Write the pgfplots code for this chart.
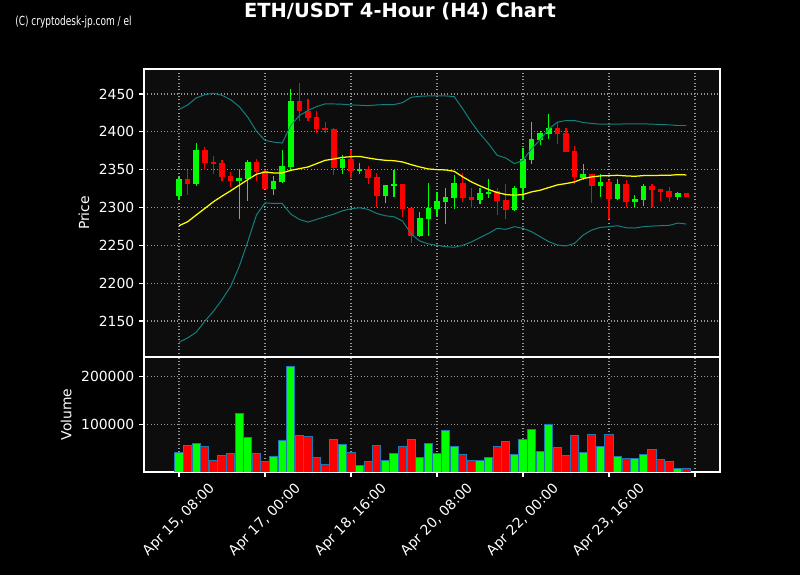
\documentclass[border=0pt]{standalone}
\usepackage{pgfplots}
\usepackage{pgfplotstable}
\pgfplotsset{compat=1.18}
\usepackage{fontspec}
\setmainfont{DejaVu Sans}
\newfontfamily\wmfont[FakeStretch=0.72]{DejaVu Sans}

\definecolor{upc}{RGB}{0,255,0}
\definecolor{dnc}{RGB}{255,0,0}
\definecolor{bbc}{RGB}{20,128,128}
\definecolor{mac}{RGB}{255,255,0}
\definecolor{axbg}{RGB}{13,13,13}
\definecolor{edgec}{RGB}{31,119,180}
\definecolor{gridc}{RGB}{150,150,150}

% candles: index, open, high, low, close, volume
\pgfplotstableread{
i o h l c v
0 2315.4 2340.4 2311.8 2337.3 41700
2 2331.1 2385.5 2328.5 2375.4 60400
7 2335.1 2351.3 2284.2 2339.0 122900
8 2337.3 2362.3 2309.2 2360.1 72900
11 2324.1 2341.7 2317.1 2334.6 33300
12 2333.3 2376.3 2332.5 2354.4 66700
13 2353.5 2456.6 2349.1 2441.2 220800
19 2352.2 2369.7 2344.7 2363.6 58300
21 2348.2 2359.2 2344.7 2350.4 14600
24 2315.4 2330.3 2305.3 2329.4 25000
25 2328.5 2350.0 2314.0 2330.7 39600
28 2262.7 2293.4 2261.0 2286.0 31300
29 2285.1 2332.9 2262.7 2299.6 60400
30 2298.2 2320.6 2288.6 2308.8 39600
31 2307.5 2326.3 2277.6 2314.0 87500
32 2312.7 2343.4 2297.4 2332.0 54200
35 2310.1 2326.3 2304.0 2318.9 25000
36 2317.5 2338.2 2312.7 2320.2 31300
39 2296.9 2329.0 2295.6 2326.3 37500
40 2325.9 2379.0 2311.4 2363.6 68800
41 2362.3 2413.2 2357.5 2389.9 89600
42 2388.6 2400.9 2382.9 2397.8 43800
43 2396.9 2423.7 2390.8 2404.4 100000
47 2339.5 2357.9 2336.8 2343.9 41700
49 2328.5 2343.9 2314.0 2333.3 54200
51 2311.4 2338.2 2309.6 2330.7 33300
53 2307.5 2316.7 2300.0 2311.0 29200
54 2310.1 2331.6 2302.2 2328.1 37500
58 2314.0 2321.0 2310.5 2318.9 8300
}\up

\pgfplotstableread{
i o h l c v
1 2337.3 2349.1 2317.1 2331.1 56300
3 2375.4 2379.8 2349.1 2358.8 54200
4 2360.1 2368.0 2344.7 2357.5 25000
5 2358.3 2363.2 2335.1 2340.4 35400
6 2341.2 2346.9 2327.2 2335.1 39600
9 2359.6 2364.5 2335.1 2346.9 39600
10 2347.8 2349.1 2324.1 2324.1 22900
14 2441.2 2464.9 2414.0 2427.2 77100
15 2428.1 2443.4 2414.0 2418.0 75000
16 2418.9 2427.2 2398.2 2403.1 31300
17 2404.4 2413.2 2398.2 2402.2 16700
18 2403.1 2404.4 2343.4 2352.2 68800
20 2363.6 2375.4 2339.5 2347.8 41700
22 2350.4 2354.8 2331.6 2339.0 22900
23 2339.9 2346.0 2300.4 2315.4 56300
26 2330.7 2330.7 2286.8 2298.2 54200
27 2299.6 2299.6 2252.6 2262.7 68800
33 2332.0 2346.0 2306.6 2312.7 37500
34 2314.0 2326.3 2299.6 2310.1 25000
37 2321.9 2326.3 2289.5 2308.3 54200
38 2310.1 2331.6 2284.2 2296.9 64600
44 2404.4 2413.2 2384.2 2396.9 52100
45 2397.8 2404.8 2373.2 2373.2 35400
46 2374.1 2381.6 2331.6 2340.4 77100
48 2343.9 2344.7 2305.3 2328.5 79200
50 2333.3 2336.0 2284.2 2311.4 79200
52 2330.7 2336.8 2300.9 2307.5 29200
55 2328.1 2331.6 2300.9 2323.2 47900
56 2324.1 2325.0 2308.3 2320.6 27100
57 2321.5 2327.2 2306.6 2314.0 22900
59 2318.9 2318.9 2314.0 2314.0 6300
}\down

% moving average and bollinger bands
\pgfplotstableread{
i mid up lo
0 2275.9 2429.4 2121.9
1 2281.1 2435.5 2127.6
2 2290.0 2444.7 2135.1
3 2298.7 2449.1 2149.6
4 2307.5 2450.9 2162.7
5 2315.0 2448.2 2178.1
6 2322.0 2442.5 2195.6
7 2329.4 2433.3 2221.9
8 2336.8 2419.3 2254.8
9 2343.9 2400.9 2289.9
10 2346.9 2388.6 2306.1
11 2345.6 2386.4 2305.3
12 2345.6 2385.1 2305.3
13 2349.1 2408.3 2291.2
14 2351.3 2421.5 2284.2
15 2353.5 2428.1 2280.7
16 2357.9 2433.3 2284.2
17 2362.3 2436.8 2287.7
18 2364.0 2436.8 2291.2
19 2366.2 2436.4 2295.6
20 2367.1 2435.5 2298.2
21 2367.5 2435.1 2299.6
22 2365.4 2434.6 2297.4
23 2363.6 2435.5 2292.1
24 2362.3 2436.0 2289.0
25 2361.8 2436.0 2287.7
26 2360.1 2438.6 2282.0
27 2356.6 2445.6 2264.9
28 2353.5 2446.9 2255.7
29 2350.9 2447.4 2251.8
30 2350.0 2447.4 2250.0
31 2349.6 2447.4 2248.2
32 2347.8 2446.5 2247.4
33 2340.4 2430.3 2250.0
34 2333.8 2412.7 2254.4
35 2328.5 2397.4 2260.1
36 2323.7 2384.2 2265.8
37 2319.7 2368.9 2272.4
38 2317.1 2365.4 2271.1
39 2316.2 2357.9 2274.6
40 2317.1 2362.3 2272.4
41 2320.6 2377.6 2268.0
42 2322.8 2389.5 2261.4
43 2326.3 2403.9 2254.8
44 2329.8 2412.7 2250.4
45 2331.6 2414.9 2249.1
46 2333.8 2414.9 2252.6
47 2338.2 2412.3 2263.6
48 2340.4 2411.0 2270.2
49 2341.7 2410.1 2273.7
50 2342.1 2410.1 2274.6
51 2342.5 2410.1 2275.9
52 2341.7 2410.5 2273.2
53 2341.2 2410.5 2272.8
54 2342.1 2410.5 2274.6
55 2342.1 2410.1 2275.4
56 2342.5 2409.6 2275.9
57 2342.5 2409.2 2276.3
58 2343.4 2408.3 2279.4
59 2343.0 2408.3 2278.1
}\bands

\pgfplotsset{
  darkpanel/.style={
    scale only axis,
    anchor=south west,
    width=414.72pt,
    xmin=-4.07, xmax=62.91,
    xtick={0,10,...,60},
    axis background/.style={fill=axbg},
    axis line style={white, line width=0.8pt},
    tick style={white, line width=0.8pt},
    tick align=outside,
    major tick length=3.5pt,
    xtick pos=bottom, ytick pos=left,
    grid=major,
    major grid style={gridc, line width=0.8pt, dash pattern=on 0.8pt off 1.6pt},
    tick label style={text=white, font=\fontsize{10}{12}\selectfont},
    label style={text=white, font=\fontsize{10}{12}\selectfont},
    /pgf/number format/assume math mode=true,
    /pgf/number format/1000 sep={},
    scaled y ticks=false,
  },
}

\begin{document}
\begin{tikzpicture}
\fill[black] (0,0) rectangle (576pt,414pt);
\node[anchor=west, text=white, inner sep=0pt, font=\wmfont\fontsize{9}{11}\selectfont] at (10.8pt,398pt) {(C) cryptodesk-jp.com / el};
\node[text=white, inner sep=0pt, font=\bfseries\fontsize{14}{17}\selectfont] at (288pt,406pt) {ETH/USDT 4-Hour (H4) Chart};

% price panel
\begin{axis}[darkpanel,
  at={(103.68pt,156.96pt)},
  height=207.36pt,
  ymin=2102.4, ymax=2483,
  ytick={2150,2200,...,2450},
  xticklabels={},
  xtick style={draw=none},
  ylabel={Price},
]
% wicks
\addplot[draw=none, mark=none, forget plot, error bars/.cd, y dir=plus, y explicit, error mark=none,
  error bar style={draw=upc, line width=0.8pt}]
  table[x=i, y=l, y error expr=\thisrow{h}-\thisrow{l}] {\up};
\addplot[draw=none, mark=none, forget plot, error bars/.cd, y dir=plus, y explicit, error mark=none,
  error bar style={draw=dnc, line width=0.8pt}]
  table[x=i, y=l, y error expr=\thisrow{h}-\thisrow{l}] {\down};
% bodies
\addplot[draw=none, mark=none, forget plot, error bars/.cd, y dir=plus, y explicit, error mark=none,
  error bar style={draw=upc, line width=4.1pt}]
  table[x=i, y=o, y error expr=\thisrow{c}-\thisrow{o}] {\up};
\addplot[draw=none, mark=none, forget plot, error bars/.cd, y dir=plus, y explicit, error mark=none,
  error bar style={draw=dnc, line width=4.1pt}]
  table[x=i, y=c, y error expr=\thisrow{o}-\thisrow{c}] {\down};
% bands and average
\addplot[bbc, line width=0.7pt, mark=none] table[x=i, y=up] {\bands};
\addplot[bbc, line width=0.7pt, mark=none] table[x=i, y=lo] {\bands};
\addplot[mac, line width=0.9pt, mark=none] table[x=i, y=mid] {\bands};
\end{axis}

% volume panel
\begin{axis}[darkpanel,
  at={(103.68pt,74.16pt)},
  height=82.8pt,
  ymin=0, ymax=240800,
  ytick={100000,200000},
  yticklabel style={/pgf/number format/fixed},
  xticklabels={{\rotatebox{45}{Apr 15, 08:00}},{\rotatebox{45}{Apr 17, 00:00}},{\rotatebox{45}{Apr 18, 16:00}},{\rotatebox{45}{Apr 20, 08:00}},{\rotatebox{45}{Apr 22, 00:00}},{\rotatebox{45}{Apr 23, 16:00}},{}},
  ylabel={Volume},
]
\addplot[ybar, bar width=0.96, bar shift=0pt, fill=upc, draw=edgec, line width=0.7pt] table[x=i, y=v] {\up};
\addplot[ybar, bar width=0.96, bar shift=0pt, fill=dnc, draw=edgec, line width=0.7pt] table[x=i, y=v] {\down};
\end{axis}

\pgfresetboundingbox
\path (0,0) rectangle (576pt,414pt);
\end{tikzpicture}
\end{document}
